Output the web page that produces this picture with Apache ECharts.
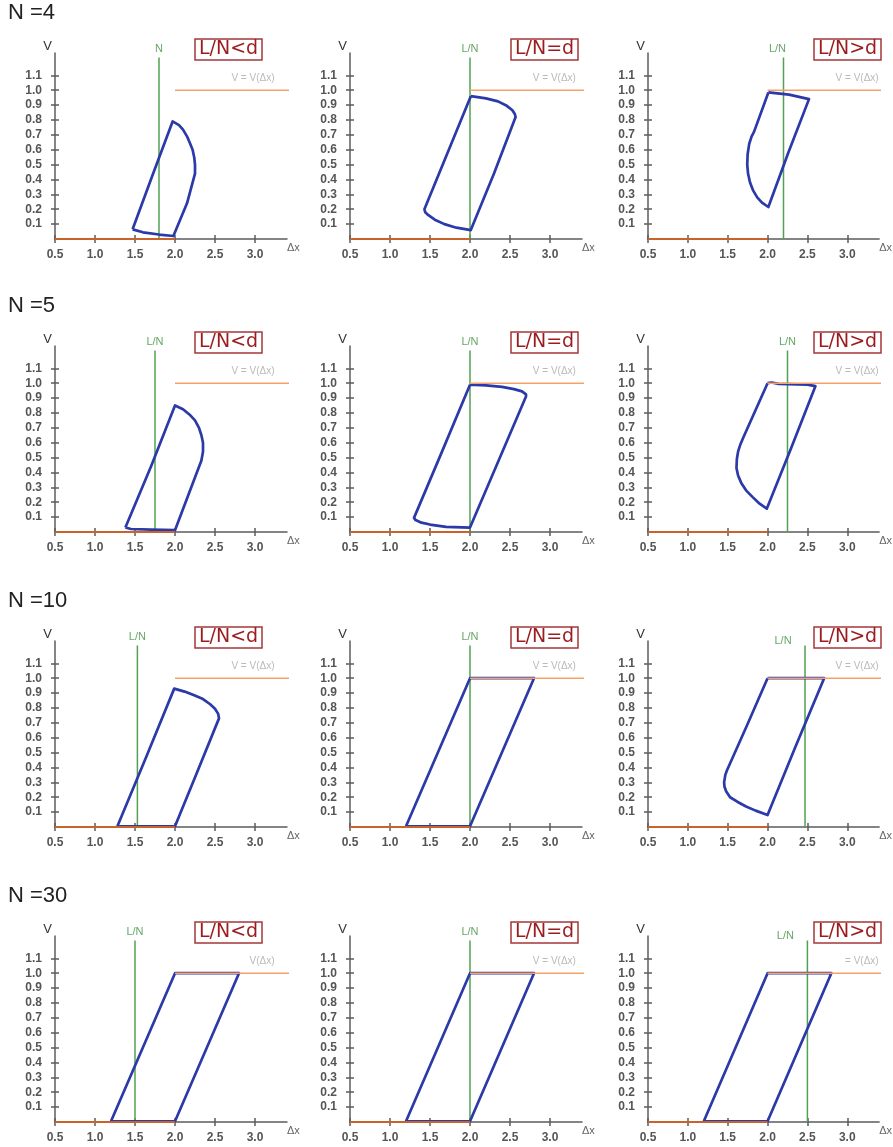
<!DOCTYPE html>
<html>
<head>
<meta charset="utf-8">
<script src="https://cdn.jsdelivr.net/npm/echarts@6/dist/echarts.min.js"></script>
<style>
    html, body { margin: 0; padding: 0; background: #fff; }
    #main { width: 893px; height: 1147px; }
</style>
</head>
<body>
<div id="main"></div>
<script>
// tick labels
var xTicks = [0.5, 1.0, 1.5, 2.0, 2.5, 3.0];
var yTicks = [0.1, 0.2, 0.3, 0.4, 0.5, 0.6, 0.7, 0.8, 0.9, 1.0, 1.1];

var rowNames = ['N =4', 'N =5', 'N =10', 'N =30'];
var caseNames = ['L/N<d', 'L/N=d', 'L/N>d'];

// where the L/N line sits in each panel
var lnX = [
    [1.8, 2.0, 2.2],
    [1.75, 2.0, 2.25],
    [1.53, 2.0, 2.47],
    [1.5, 2.0, 2.5]
];
var lnText = [
    ['N', 'L/N', 'L/N'],
    ['L/N', 'L/N', 'L/N'],
    ['L/N', 'L/N', 'L/N'],
    ['L/N', 'L/N', 'L/N']
];
var vText = [
    ['V = V(Δx)', 'V = V(Δx)', 'V = V(Δx)'],
    ['V = V(Δx)', 'V = V(Δx)', 'V = V(Δx)'],
    ['V = V(Δx)', 'V = V(Δx)', 'V = V(Δx)'],
    ['V(Δx)', 'V = V(Δx)', '= V(Δx)']
];

// step V = V(Δx)
var vLow = [[0.5, 0], [2.0, 0]];
var vHigh = [[2.0, 1.0], [3.45, 1.0]];

// hysteresis loops (Δx, V)
var loopN4Lt = [[1.47, 0.065], [1.72, 0.43], [1.97, 0.79], [2.05, 0.765], [2.1, 0.735], [2.15, 0.69], [2.19, 0.64], [2.22, 0.6], [2.24, 0.55], [2.25, 0.5], [2.25, 0.44], [2.15, 0.24], [1.98, 0.02], [1.8, 0.03], [1.6, 0.045], [1.47, 0.065]];
var loopN4Eq = [[2.01, 0.96], [2.2, 0.945], [2.35, 0.925], [2.46, 0.895], [2.53, 0.865], [2.56, 0.84], [2.57, 0.82], [2.3, 0.44], [2.01, 0.06], [1.83, 0.076], [1.68, 0.1], [1.56, 0.13], [1.48, 0.16], [1.44, 0.18], [1.43, 0.2], [1.72, 0.58], [2.01, 0.96]];
var loopN4Gt = [[2.01, 0.985], [2.27, 0.97], [2.52, 0.94], [2.26, 0.58], [2.01, 0.215], [1.93, 0.245], [1.87, 0.28], [1.82, 0.325], [1.78, 0.38], [1.755, 0.44], [1.745, 0.5], [1.75, 0.57], [1.77, 0.64], [1.8, 0.69], [1.83, 0.72], [2.01, 0.985]];
var loopN5Lt = [[1.38, 0.03], [1.7, 0.44], [2.0, 0.85], [2.1, 0.825], [2.18, 0.79], [2.25, 0.75], [2.3, 0.7], [2.33, 0.65], [2.35, 0.6], [2.35, 0.54], [2.33, 0.48], [2.0, 0.012], [1.7, 0.016], [1.45, 0.02], [1.38, 0.03]];
var loopN5Eq = [[2.0, 0.99], [2.2, 0.985], [2.4, 0.975], [2.55, 0.96], [2.65, 0.945], [2.7, 0.925], [2.7, 0.91], [2.35, 0.47], [2.0, 0.03], [1.7, 0.035], [1.5, 0.05], [1.38, 0.065], [1.32, 0.08], [1.3, 0.095], [1.65, 0.54], [2.0, 0.99]];
var loopN5Gt = [[2.0, 1.0], [2.05, 1.005], [2.14, 0.995], [2.5, 0.99], [2.6, 0.98], [2.3, 0.57], [1.99, 0.157], [1.9, 0.19], [1.81, 0.236], [1.73, 0.28], [1.67, 0.33], [1.63, 0.38], [1.61, 0.43], [1.615, 0.49], [1.63, 0.54], [1.66, 0.59], [1.7, 0.64], [2.0, 1.0]];
var loopN10Lt = [[1.28, 0.005], [1.64, 0.47], [1.99, 0.93], [2.12, 0.91], [2.24, 0.885], [2.35, 0.86], [2.44, 0.825], [2.5, 0.795], [2.54, 0.76], [2.55, 0.73], [2.27, 0.36], [2.0, 0.005], [1.28, 0.005]];
var loopN10Eq = [[1.2, 0.005], [2.0, 1.0], [2.8, 1.0], [2.0, 0.005], [1.2, 0.005]];
var loopN10Gt = [[2.0, 1.0], [2.71, 1.0], [2.35, 0.54], [2.0, 0.08], [1.85, 0.11], [1.73, 0.138], [1.62, 0.17], [1.53, 0.2], [1.48, 0.24], [1.46, 0.27], [1.455, 0.3], [1.47, 0.35], [1.49, 0.38], [1.74, 0.68], [2.0, 1.0]];
var loopN30Lt = [[1.2, 0.005], [2.0, 1.0], [2.8, 1.0], [2.0, 0.005], [1.2, 0.005]];
var loopN30Eq = [[1.2, 0.005], [2.0, 1.0], [2.8, 1.0], [2.0, 0.005], [1.2, 0.005]];
var loopN30Gt = [[1.2, 0.005], [2.0, 1.0], [2.8, 1.0], [2.0, 0.005], [1.2, 0.005]];

var loops = [
    [loopN4Lt, loopN4Eq, loopN4Gt],
    [loopN5Lt, loopN5Eq, loopN5Gt],
    [loopN10Lt, loopN10Eq, loopN10Gt],
    [loopN30Lt, loopN30Eq, loopN30Gt]
];

// layout
var colX = [55, 350, 648];
var baseY = [239, 532, 827, 1122];
var GW = 232, GH = 186;
var boxDx = [140, 161, 166];
var vLabelX = [3.25, 3.33, 3.4];
var lnLabelOffset = [
    [[0, 0], [0, 0], [-6, 0]],
    [[0, 0], [0, 0], [0, 0]],
    [[0, 0], [0, 0], [-22, 4]],
    [[0, 0], [0, 0], [-22, 4]]
];

var axisColor = '#5c5c5c';
var labelFont = { color: '#555', fontSize: 12, fontWeight: 'bold', fontFamily: 'Liberation Sans' };
function fmt(v) { return v.toFixed(1); }

var grid = [], xAxis = [], yAxis = [], series = [], title = [];

rowNames.forEach(function (name, r) {
    title.push({
        text: name, left: 8, top: baseY[r] - 237, padding: 0,
        textStyle: { fontSize: 22, fontWeight: 'normal', color: '#222', fontFamily: 'Liberation Sans' }
    });
    for (var c = 0; c < 3; c++) {
        var g = r * 3 + c;
        grid.push({ left: colX[c], top: baseY[r] - GH, width: GW, height: GH });
        title.push({
            text: caseNames[c], left: colX[c] + boxDx[c], top: baseY[r] - 200,
            borderColor: '#a5373a', borderWidth: 1.5, padding: [1, 4, 1, 4],
            textStyle: { fontSize: 19, lineHeight: 19, color: '#9b1b1f', fontWeight: 'normal', fontFamily: 'DejaVu Sans' }
        });

        // main axes
        xAxis.push({
            type: 'value', gridIndex: g, min: 0.5, max: 3.4, position: 'bottom',
            name: 'Δx', nameLocation: 'end', nameGap: 0,
            nameTextStyle: { color: '#666', fontSize: 11, verticalAlign: 'top', padding: [3, 0, 0, 0] },
            axisLine: { show: true, onZero: false, lineStyle: { color: axisColor, width: 1.5 } },
            axisTick: { show: true, length: 4, customValues: xTicks, lineStyle: { color: axisColor, width: 1.5 } },
            axisLabel: Object.assign({ customValues: xTicks, formatter: fmt, margin: 10 }, labelFont),
            splitLine: { show: false }
        });
        yAxis.push({
            type: 'value', gridIndex: g, min: 0, max: 1.25, position: 'left',
            name: 'V', nameLocation: 'end', nameGap: 0,
            nameTextStyle: { color: '#333', fontSize: 13, align: 'right', verticalAlign: 'bottom', padding: [0, 3, 0, 0] },
            axisLine: { show: true, onZero: false, lineStyle: { color: axisColor, width: 1.5 } },
            axisTick: { show: true, length: 4, customValues: yTicks, lineStyle: { color: axisColor, width: 1.5 } },
            axisLabel: Object.assign({ customValues: yTicks, formatter: fmt, margin: 13 }, labelFont),
            splitLine: { show: false }
        });
        // mirror axes: inner half of the cross ticks
        xAxis.push({
            type: 'value', gridIndex: g, min: 0.5, max: 3.4, position: 'bottom',
            axisLine: { show: false },
            axisTick: { show: true, inside: true, length: 4, customValues: xTicks, lineStyle: { color: axisColor, width: 1.5 } },
            axisLabel: { show: false }, splitLine: { show: false }
        });
        yAxis.push({
            type: 'value', gridIndex: g, min: 0, max: 1.25, position: 'left',
            axisLine: { show: false },
            axisTick: { show: true, inside: true, length: 4, customValues: yTicks, lineStyle: { color: axisColor, width: 1.5 } },
            axisLabel: { show: false }, splitLine: { show: false }
        });

        var xi = g * 2, yi = g * 2;
        var lx = lnX[r][c];

        // L/N line
        series.push({
            type: 'line', xAxisIndex: xi, yAxisIndex: yi, data: [[lx, 0], [lx, 1.22]],
            symbol: 'none', lineStyle: { color: '#52a052', width: 1.5 }, z: 2
        });
        series.push({
            type: 'scatter', xAxisIndex: xi, yAxisIndex: yi, data: [[lx, 1.22]],
            symbolSize: 1, itemStyle: { color: 'transparent' },
            label: {
                show: true, position: 'top', distance: 2, offset: lnLabelOffset[r][c],
                formatter: lnText[r][c], color: '#3f8f3f', fontSize: 11, fontFamily: 'Liberation Sans'
            }, z: 2
        });
        // loop
        series.push({
            type: 'line', xAxisIndex: xi, yAxisIndex: yi, data: loops[r][c],
            symbol: 'none', lineStyle: { color: '#2b3aa8', width: 2.7, join: 'round' }, z: 3
        });
        // V = V(Δx)
        series.push({
            type: 'line', xAxisIndex: xi, yAxisIndex: yi, data: vLow,
            symbol: 'none', lineStyle: { color: '#c9632c', width: 2 }, z: 4
        });
        series.push({
            type: 'line', xAxisIndex: xi, yAxisIndex: yi, data: vHigh, clip: false,
            symbol: 'none', lineStyle: { color: '#f6a167', width: 1.6 }, z: 4
        });
        series.push({
            type: 'scatter', xAxisIndex: xi, yAxisIndex: yi, data: [[vLabelX[c], 1.08]],
            symbolSize: 1, itemStyle: { color: 'transparent' },
            label: {
                show: true, position: 'left', distance: 0,
                formatter: vText[r][c], color: '#a8a8a8', fontSize: 10, fontFamily: 'Liberation Sans'
            }, z: 2
        });
    }
});

var myChart = echarts.init(document.getElementById('main'));
myChart.setOption({
    animation: false,
    backgroundColor: '#fff',
    title: title,
    grid: grid,
    xAxis: xAxis,
    yAxis: yAxis,
    series: series
});
</script>
</body>
</html>
